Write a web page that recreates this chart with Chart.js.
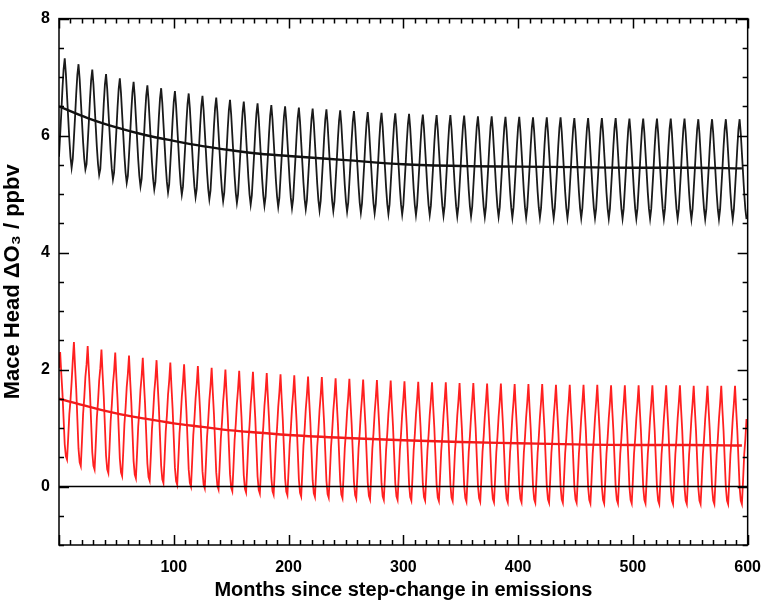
<!DOCTYPE html>
<html>
<head>
<meta charset="utf-8">
<script src="https://cdn.jsdelivr.net/npm/chart.js@4/dist/chart.umd.min.js"></script>
<style>
  body { margin: 0; background: #fff; }
  #wrap { width: 774px; height: 603px; }
</style>
</head>
<body>
<div id="wrap"><canvas id="chart" width="774" height="603"></canvas></div>
<script>
// tick labels
const xTicks = [100, 200, 300, 400, 500, 600];
const yTicks = [0, 2, 4, 6, 8];

// seasonal shape within one 12-month cycle (0 = yearly low, 1 = yearly high)
const blackProfile = [0.1, 0.3, 0.5, 0.72, 0.9, 1.0, 0.86, 0.66, 0.46, 0.26, 0.1, 0.0];
const redProfile = [0.85, 1.0, 0.8, 0.62, 0.38, 0.14, 0.03, 0.0, 0.2, 0.42, 0.55, 0.72];

// yearly highs / lows (50 years)
const blackHighs = [7.32, 7.22, 7.13, 7.05, 6.98, 6.92, 6.86, 6.81, 6.76, 6.72,
  6.68, 6.65, 6.61, 6.58, 6.55, 6.52, 6.50, 6.48, 6.46, 6.45,
  6.43, 6.42, 6.40, 6.39, 6.38, 6.37, 6.36, 6.35, 6.35, 6.34,
  6.33, 6.33, 6.32, 6.32, 6.31, 6.31, 6.31, 6.30, 6.30, 6.30,
  6.30, 6.29, 6.29, 6.29, 6.29, 6.29, 6.28, 6.28, 6.28, 6.28];
const blackLows = [5.45, 5.42, 5.33, 5.25, 5.19, 5.13, 5.08, 5.03, 4.99, 4.95,
  4.91, 4.88, 4.85, 4.82, 4.80, 4.78, 4.76, 4.74, 4.72, 4.71,
  4.70, 4.68, 4.67, 4.66, 4.65, 4.64, 4.64, 4.63, 4.62, 4.62,
  4.61, 4.61, 4.60, 4.60, 4.60, 4.59, 4.59, 4.59, 4.59, 4.58,
  4.58, 4.58, 4.58, 4.58, 4.58, 4.57, 4.57, 4.57, 4.57, 4.57];
const redHighs = [2.30, 2.47, 2.40, 2.34, 2.29, 2.24, 2.20, 2.16, 2.12, 2.09,
  2.06, 2.03, 2.00, 1.98, 1.96, 1.94, 1.92, 1.90, 1.88, 1.87,
  1.85, 1.84, 1.83, 1.82, 1.81, 1.80, 1.79, 1.78, 1.78, 1.77,
  1.77, 1.76, 1.76, 1.75, 1.75, 1.75, 1.74, 1.74, 1.74, 1.74,
  1.73, 1.73, 1.73, 1.73, 1.73, 1.73, 1.72, 1.72, 1.72, 1.72];
const redLows = [0.46, 0.35, 0.29, 0.23, 0.18, 0.14, 0.10, 0.06, 0.03, 0.00,
  -0.03, -0.05, -0.08, -0.10, -0.12, -0.14, -0.15, -0.17, -0.18, -0.19,
  -0.20, -0.21, -0.22, -0.23, -0.23, -0.24, -0.24, -0.25, -0.25, -0.26,
  -0.26, -0.27, -0.27, -0.27, -0.28, -0.28, -0.28, -0.28, -0.29, -0.29,
  -0.29, -0.29, -0.29, -0.30, -0.30, -0.30, -0.30, -0.30, -0.30, -0.30];

// smooth (annual mean) curves
const meanMonths = [0, 25, 50, 75, 100, 125, 150, 175, 200, 250, 300, 350, 400, 450, 500, 550, 595];
const blackMean = [6.50, 6.30, 6.14, 6.01, 5.91, 5.82, 5.75, 5.69, 5.65, 5.58, 5.51, 5.48, 5.47, 5.46, 5.45, 5.45, 5.44];
const redMean = [1.50, 1.37, 1.25, 1.16, 1.08, 1.02, 0.96, 0.92, 0.88, 0.83, 0.79, 0.76, 0.74, 0.72, 0.71, 0.71, 0.70];

function monthly(profile, lows, highs) {
  const pts = [];
  for (let yr = 0; yr < highs.length; yr++) {
    for (let m = 0; m < 12; m++) {
      pts.push({ x: yr * 12 + m, y: lows[yr] + profile[m] * (highs[yr] - lows[yr]) });
    }
  }
  return pts;
}

function pairs(xs, ys) {
  return xs.map((x, i) => ({ x: x, y: ys[i] }));
}

// frame + inward major/minor ticks on all four sides
const frameTicks = {
  id: "frameTicks",
  afterDraw(chart) {
    const { ctx, chartArea: a, scales: { x, y } } = chart;
    ctx.save();
    ctx.strokeStyle = "#000";
    ctx.lineWidth = 1.5;
    ctx.strokeRect(a.left, a.top, a.right - a.left, a.bottom - a.top);
    ctx.beginPath();
    for (let i = 0; i <= 60; i++) {
      const px = Math.round(x.getPixelForValue(i * 10)) + 0.5;
      const len = i % 10 === 0 ? 10 : 5;
      ctx.moveTo(px, a.bottom); ctx.lineTo(px, a.bottom - len);
      ctx.moveTo(px, a.top); ctx.lineTo(px, a.top + len);
    }
    for (let i = 0; i <= 18; i++) {
      const v = -1 + i * 0.5;
      const py = Math.round(y.getPixelForValue(v)) + 0.5;
      const len = v % 2 === 0 ? 10 : 5;
      ctx.moveTo(a.left, py); ctx.lineTo(a.left + len, py);
      ctx.moveTo(a.right, py); ctx.lineTo(a.right - len, py);
    }
    ctx.stroke();
    ctx.restore();
  }
};

const tickFont = { family: "'Liberation Sans', Arial, sans-serif", size: 16, weight: "bold" };
const xTitleFont = { family: "'Liberation Sans', Arial, sans-serif", size: 20, weight: "bold" };
const yTitleFont = { family: "'Liberation Sans', Arial, sans-serif", size: 22, weight: "bold" };

new Chart(document.getElementById("chart"), {
  type: "line",
  data: {
    datasets: [
      { data: [{ x: 0, y: 0 }, { x: 600, y: 0 }], borderColor: "#000", borderWidth: 1.5 },
      { data: pairs(meanMonths, blackMean), borderColor: "#111", borderWidth: 2.4, cubicInterpolationMode: "monotone" },
      { data: pairs(meanMonths, redMean), borderColor: "#f21b1b", borderWidth: 2.4, cubicInterpolationMode: "monotone" },
      { data: monthly(blackProfile, blackLows, blackHighs), borderColor: "#1a1a1a", borderWidth: 1.8 },
      { data: monthly(redProfile, redLows, redHighs), borderColor: "#ff2020", borderWidth: 1.8 }
    ]
  },
  options: {
    responsive: false,
    animation: false,
    layout: { padding: { top: 18, right: 13, left: 0, bottom: 0 } },
    elements: { point: { radius: 0 } },
    plugins: { legend: { display: false }, tooltip: { enabled: false } },
    scales: {
      x: {
        type: "linear",
        min: 0,
        max: 600,
        afterBuildTicks: s => { s.ticks = xTicks.map(v => ({ value: v })); },
        afterFit: s => { s.height = 58; },
        grid: { display: false, drawTicks: false },
        border: { display: false },
        ticks: { font: tickFont, color: "#000", padding: 13, maxRotation: 0 },
        title: {
          display: true,
          text: "Months since step-change in emissions",
          font: xTitleFont,
          color: "#000",
          padding: { top: 0, bottom: 1 }
        }
      },
      y: {
        type: "linear",
        min: -1,
        max: 8,
        afterBuildTicks: s => { s.ticks = yTicks.map(v => ({ value: v })); },
        afterFit: s => { s.width = 59; },
        grid: { display: false, drawTicks: false },
        border: { display: false },
        ticks: { font: tickFont, color: "#000", padding: 9 },
        title: {
          display: true,
          text: "Mace Head ΔO₃ / ppbv",
          font: yTitleFont,
          color: "#000",
          padding: { top: 0, bottom: 0 }
        }
      }
    }
  },
  plugins: [frameTicks]
});
</script>
</body>
</html>
